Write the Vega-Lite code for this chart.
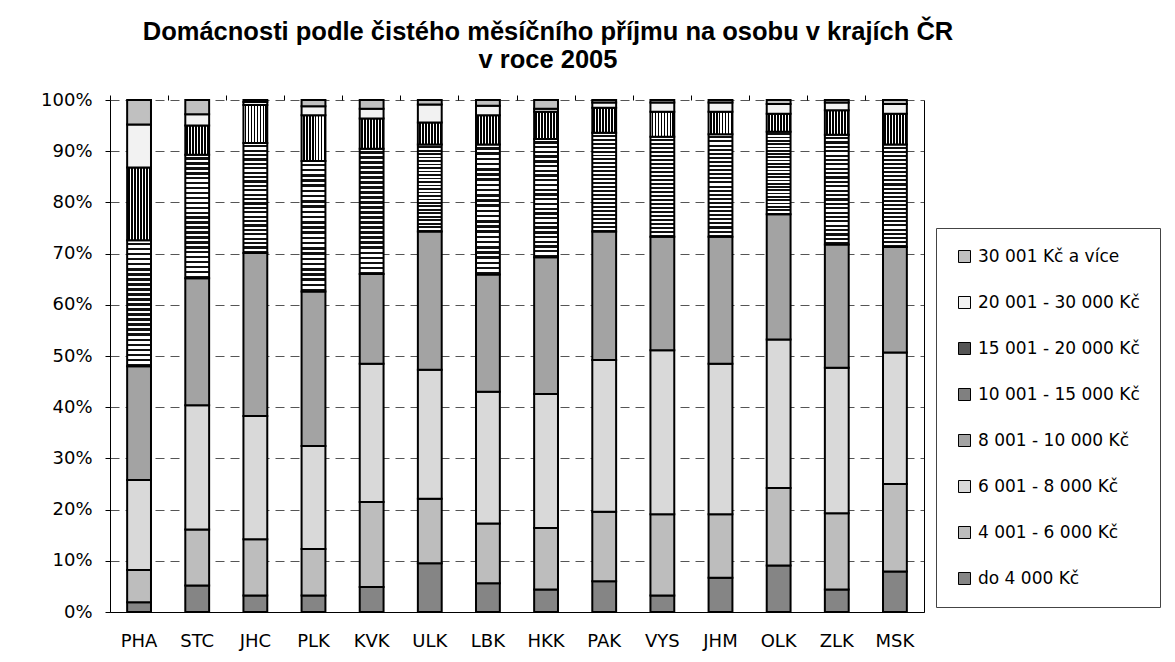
{
  "$schema": "https://vega.github.io/schema/vega-lite/v6.json",
  "width": 814,
  "height": 512,
  "autosize": "none",
  "padding": {"left": 110, "top": 100, "right": 251, "bottom": 50},
  "background": "white",
  "config": {"view": {"stroke": null}, "font": "DejaVu Sans"},
  "title": {
    "text": ["Domácnosti podle čistého měsíčního příjmu na osobu v krajích ČR", "v roce 2005"],
    "font": "Liberation Sans",
    "fontSize": 25.5,
    "fontWeight": "bold",
    "color": "black",
    "anchor": "middle",
    "frame": "group",
    "dx": 31,
    "offset": 18,
    "lineHeight": 28
  },
  "data": {
    "values": [
      {"k": "PHA", "c": "do 4 000 Kč", "r": 1, "v": 1.9},
      {"k": "PHA", "c": "4 001 - 6 000 Kč", "r": 2, "v": 6.3},
      {"k": "PHA", "c": "6 001 - 8 000 Kč", "r": 3, "v": 17.6},
      {"k": "PHA", "c": "8 001 - 10 000 Kč", "r": 4, "v": 22.2},
      {"k": "PHA", "c": "10 001 - 15 000 Kč", "r": 5, "v": 24.6},
      {"k": "PHA", "c": "15 001 - 20 000 Kč", "r": 6, "v": 14.2},
      {"k": "PHA", "c": "20 001 - 30 000 Kč", "r": 7, "v": 8.4},
      {"k": "PHA", "c": "30 001 Kč a více", "r": 8, "v": 4.8},
      {"k": "STC", "c": "do 4 000 Kč", "r": 1, "v": 5.2},
      {"k": "STC", "c": "4 001 - 6 000 Kč", "r": 2, "v": 10.9},
      {"k": "STC", "c": "6 001 - 8 000 Kč", "r": 3, "v": 24.3},
      {"k": "STC", "c": "8 001 - 10 000 Kč", "r": 4, "v": 24.8},
      {"k": "STC", "c": "10 001 - 15 000 Kč", "r": 5, "v": 24.1},
      {"k": "STC", "c": "15 001 - 20 000 Kč", "r": 6, "v": 5.7},
      {"k": "STC", "c": "20 001 - 30 000 Kč", "r": 7, "v": 2.2},
      {"k": "STC", "c": "30 001 Kč a více", "r": 8, "v": 2.8},
      {"k": "JHC", "c": "do 4 000 Kč", "r": 1, "v": 3.2},
      {"k": "JHC", "c": "4 001 - 6 000 Kč", "r": 2, "v": 11.0},
      {"k": "JHC", "c": "6 001 - 8 000 Kč", "r": 3, "v": 24.1},
      {"k": "JHC", "c": "8 001 - 10 000 Kč", "r": 4, "v": 31.8},
      {"k": "JHC", "c": "10 001 - 15 000 Kč", "r": 5, "v": 21.5},
      {"k": "JHC", "c": "15 001 - 20 000 Kč", "r": 6, "v": 7.4},
      {"k": "JHC", "c": "20 001 - 30 000 Kč", "r": 7, "v": 0.6},
      {"k": "JHC", "c": "30 001 Kč a více", "r": 8, "v": 0.4},
      {"k": "PLK", "c": "do 4 000 Kč", "r": 1, "v": 3.2},
      {"k": "PLK", "c": "4 001 - 6 000 Kč", "r": 2, "v": 9.1},
      {"k": "PLK", "c": "6 001 - 8 000 Kč", "r": 3, "v": 20.1},
      {"k": "PLK", "c": "8 001 - 10 000 Kč", "r": 4, "v": 30.2},
      {"k": "PLK", "c": "10 001 - 15 000 Kč", "r": 5, "v": 25.5},
      {"k": "PLK", "c": "15 001 - 20 000 Kč", "r": 6, "v": 8.9},
      {"k": "PLK", "c": "20 001 - 30 000 Kč", "r": 7, "v": 1.8},
      {"k": "PLK", "c": "30 001 Kč a více", "r": 8, "v": 1.2},
      {"k": "KVK", "c": "do 4 000 Kč", "r": 1, "v": 4.9},
      {"k": "KVK", "c": "4 001 - 6 000 Kč", "r": 2, "v": 16.6},
      {"k": "KVK", "c": "6 001 - 8 000 Kč", "r": 3, "v": 27.0},
      {"k": "KVK", "c": "8 001 - 10 000 Kč", "r": 4, "v": 17.5},
      {"k": "KVK", "c": "10 001 - 15 000 Kč", "r": 5, "v": 24.5},
      {"k": "KVK", "c": "15 001 - 20 000 Kč", "r": 6, "v": 5.9},
      {"k": "KVK", "c": "20 001 - 30 000 Kč", "r": 7, "v": 1.9},
      {"k": "KVK", "c": "30 001 Kč a více", "r": 8, "v": 1.7},
      {"k": "ULK", "c": "do 4 000 Kč", "r": 1, "v": 9.5},
      {"k": "ULK", "c": "4 001 - 6 000 Kč", "r": 2, "v": 12.6},
      {"k": "ULK", "c": "6 001 - 8 000 Kč", "r": 3, "v": 25.2},
      {"k": "ULK", "c": "8 001 - 10 000 Kč", "r": 4, "v": 27.0},
      {"k": "ULK", "c": "10 001 - 15 000 Kč", "r": 5, "v": 17.0},
      {"k": "ULK", "c": "15 001 - 20 000 Kč", "r": 6, "v": 4.3},
      {"k": "ULK", "c": "20 001 - 30 000 Kč", "r": 7, "v": 3.5},
      {"k": "ULK", "c": "30 001 Kč a více", "r": 8, "v": 0.9},
      {"k": "LBK", "c": "do 4 000 Kč", "r": 1, "v": 5.6},
      {"k": "LBK", "c": "4 001 - 6 000 Kč", "r": 2, "v": 11.7},
      {"k": "LBK", "c": "6 001 - 8 000 Kč", "r": 3, "v": 25.7},
      {"k": "LBK", "c": "8 001 - 10 000 Kč", "r": 4, "v": 22.9},
      {"k": "LBK", "c": "10 001 - 15 000 Kč", "r": 5, "v": 25.4},
      {"k": "LBK", "c": "15 001 - 20 000 Kč", "r": 6, "v": 5.7},
      {"k": "LBK", "c": "20 001 - 30 000 Kč", "r": 7, "v": 1.9},
      {"k": "LBK", "c": "30 001 Kč a více", "r": 8, "v": 1.1},
      {"k": "HKK", "c": "do 4 000 Kč", "r": 1, "v": 4.4},
      {"k": "HKK", "c": "4 001 - 6 000 Kč", "r": 2, "v": 12.0},
      {"k": "HKK", "c": "6 001 - 8 000 Kč", "r": 3, "v": 26.2},
      {"k": "HKK", "c": "8 001 - 10 000 Kč", "r": 4, "v": 26.7},
      {"k": "HKK", "c": "10 001 - 15 000 Kč", "r": 5, "v": 23.1},
      {"k": "HKK", "c": "15 001 - 20 000 Kč", "r": 6, "v": 5.3},
      {"k": "HKK", "c": "20 001 - 30 000 Kč", "r": 7, "v": 0.6},
      {"k": "HKK", "c": "30 001 Kč a více", "r": 8, "v": 1.7},
      {"k": "PAK", "c": "do 4 000 Kč", "r": 1, "v": 6.0},
      {"k": "PAK", "c": "4 001 - 6 000 Kč", "r": 2, "v": 13.6},
      {"k": "PAK", "c": "6 001 - 8 000 Kč", "r": 3, "v": 29.6},
      {"k": "PAK", "c": "8 001 - 10 000 Kč", "r": 4, "v": 25.1},
      {"k": "PAK", "c": "10 001 - 15 000 Kč", "r": 5, "v": 19.3},
      {"k": "PAK", "c": "15 001 - 20 000 Kč", "r": 6, "v": 4.9},
      {"k": "PAK", "c": "20 001 - 30 000 Kč", "r": 7, "v": 1.0},
      {"k": "PAK", "c": "30 001 Kč a více", "r": 8, "v": 0.5},
      {"k": "VYS", "c": "do 4 000 Kč", "r": 1, "v": 3.2},
      {"k": "VYS", "c": "4 001 - 6 000 Kč", "r": 2, "v": 15.9},
      {"k": "VYS", "c": "6 001 - 8 000 Kč", "r": 3, "v": 32.0},
      {"k": "VYS", "c": "8 001 - 10 000 Kč", "r": 4, "v": 22.2},
      {"k": "VYS", "c": "10 001 - 15 000 Kč", "r": 5, "v": 19.5},
      {"k": "VYS", "c": "15 001 - 20 000 Kč", "r": 6, "v": 4.9},
      {"k": "VYS", "c": "20 001 - 30 000 Kč", "r": 7, "v": 1.8},
      {"k": "VYS", "c": "30 001 Kč a více", "r": 8, "v": 0.5},
      {"k": "JHM", "c": "do 4 000 Kč", "r": 1, "v": 6.7},
      {"k": "JHM", "c": "4 001 - 6 000 Kč", "r": 2, "v": 12.4},
      {"k": "JHM", "c": "6 001 - 8 000 Kč", "r": 3, "v": 29.4},
      {"k": "JHM", "c": "8 001 - 10 000 Kč", "r": 4, "v": 24.8},
      {"k": "JHM", "c": "10 001 - 15 000 Kč", "r": 5, "v": 20.0},
      {"k": "JHM", "c": "15 001 - 20 000 Kč", "r": 6, "v": 4.4},
      {"k": "JHM", "c": "20 001 - 30 000 Kč", "r": 7, "v": 1.8},
      {"k": "JHM", "c": "30 001 Kč a více", "r": 8, "v": 0.5},
      {"k": "OLK", "c": "do 4 000 Kč", "r": 1, "v": 9.1},
      {"k": "OLK", "c": "4 001 - 6 000 Kč", "r": 2, "v": 15.1},
      {"k": "OLK", "c": "6 001 - 8 000 Kč", "r": 3, "v": 29.0},
      {"k": "OLK", "c": "8 001 - 10 000 Kč", "r": 4, "v": 24.5},
      {"k": "OLK", "c": "10 001 - 15 000 Kč", "r": 5, "v": 16.1},
      {"k": "OLK", "c": "15 001 - 20 000 Kč", "r": 6, "v": 3.5},
      {"k": "OLK", "c": "20 001 - 30 000 Kč", "r": 7, "v": 1.9},
      {"k": "OLK", "c": "30 001 Kč a více", "r": 8, "v": 0.8},
      {"k": "ZLK", "c": "do 4 000 Kč", "r": 1, "v": 4.4},
      {"k": "ZLK", "c": "4 001 - 6 000 Kč", "r": 2, "v": 14.9},
      {"k": "ZLK", "c": "6 001 - 8 000 Kč", "r": 3, "v": 28.4},
      {"k": "ZLK", "c": "8 001 - 10 000 Kč", "r": 4, "v": 24.1},
      {"k": "ZLK", "c": "10 001 - 15 000 Kč", "r": 5, "v": 21.4},
      {"k": "ZLK", "c": "15 001 - 20 000 Kč", "r": 6, "v": 4.8},
      {"k": "ZLK", "c": "20 001 - 30 000 Kč", "r": 7, "v": 1.5},
      {"k": "ZLK", "c": "30 001 Kč a více", "r": 8, "v": 0.5},
      {"k": "MSK", "c": "do 4 000 Kč", "r": 1, "v": 7.9},
      {"k": "MSK", "c": "4 001 - 6 000 Kč", "r": 2, "v": 17.1},
      {"k": "MSK", "c": "6 001 - 8 000 Kč", "r": 3, "v": 25.7},
      {"k": "MSK", "c": "8 001 - 10 000 Kč", "r": 4, "v": 20.6},
      {"k": "MSK", "c": "10 001 - 15 000 Kč", "r": 5, "v": 20.0},
      {"k": "MSK", "c": "15 001 - 20 000 Kč", "r": 6, "v": 6.0},
      {"k": "MSK", "c": "20 001 - 30 000 Kč", "r": 7, "v": 1.9},
      {"k": "MSK", "c": "30 001 Kč a více", "r": 8, "v": 0.8}
    ]
  },
  "layer": [
    {
      "mark": {"type": "bar", "width": {"band": 0.41}, "stroke": "black", "strokeWidth": 2},
      "encoding": {
        "x": {
          "field": "k", "type": "nominal", "sort": null,
          "scale": {"paddingInner": 0, "paddingOuter": 0},
          "axis": {"title": null, "labelAngle": 0, "ticks": false, "domain": true, "domainColor": "black", "domainWidth": 1, "labelFont": "DejaVu Sans", "labelFontSize": 18, "labelColor": "black", "labelPadding": 20, "grid": false}
        },
        "y": {
          "field": "v", "type": "quantitative", "stack": "normalize",
          "scale": {"domain": [0, 1]},
          "axis": {"title": null, "format": ".0%", "values": [0, 0.1, 0.2, 0.3, 0.4, 0.5, 0.6, 0.7, 0.8, 0.9, 1], "grid": true, "gridDash": [9, 6], "gridColor": "#555555", "gridWidth": 1, "domainColor": "black", "tickColor": "black", "tickSize": 5, "labelFont": "DejaVu Sans", "labelFontSize": 18, "labelColor": "black", "labelPadding": 13}
        },
        "color": {
          "condition": [
            {"test": "datum.c === '15 001 - 20 000 Kč'", "value": {"gradient": "linear", "x1": 0, "y1": 0, "x2": 1, "y2": 0, "stops": [
                {"offset": 0, "color": "#ffffff"}, {"offset": 0.05, "color": "#ffffff"}, {"offset": 0.05, "color": "#000000"}, {"offset": 0.125, "color": "#000000"},
                {"offset": 0.125, "color": "#ffffff"}, {"offset": 0.175, "color": "#ffffff"}, {"offset": 0.175, "color": "#000000"}, {"offset": 0.25, "color": "#000000"},
                {"offset": 0.25, "color": "#ffffff"}, {"offset": 0.3, "color": "#ffffff"}, {"offset": 0.3, "color": "#000000"}, {"offset": 0.375, "color": "#000000"},
                {"offset": 0.375, "color": "#ffffff"}, {"offset": 0.425, "color": "#ffffff"}, {"offset": 0.425, "color": "#000000"}, {"offset": 0.5, "color": "#000000"},
                {"offset": 0.5, "color": "#ffffff"}, {"offset": 0.55, "color": "#ffffff"}, {"offset": 0.55, "color": "#000000"}, {"offset": 0.625, "color": "#000000"},
                {"offset": 0.625, "color": "#ffffff"}, {"offset": 0.675, "color": "#ffffff"}, {"offset": 0.675, "color": "#000000"}, {"offset": 0.75, "color": "#000000"},
                {"offset": 0.75, "color": "#ffffff"}, {"offset": 0.8, "color": "#ffffff"}, {"offset": 0.8, "color": "#000000"}, {"offset": 0.875, "color": "#000000"},
                {"offset": 0.875, "color": "#ffffff"}, {"offset": 0.925, "color": "#ffffff"}, {"offset": 0.925, "color": "#000000"}, {"offset": 1, "color": "#000000"}
              ]}},
            {"test": "datum.c === '10 001 - 15 000 Kč'", "value": {"gradient": "linear", "x1": 0, "y1": 0, "x2": 0, "y2": 1, "stops": [
                {"offset": 0, "color": "#ffffff"}, {"offset": 0.02, "color": "#ffffff"}, {"offset": 0.02, "color": "#111111"}, {"offset": 0.04, "color": "#111111"},
                {"offset": 0.04, "color": "#ffffff"}, {"offset": 0.06, "color": "#ffffff"}, {"offset": 0.06, "color": "#111111"}, {"offset": 0.08, "color": "#111111"},
                {"offset": 0.08, "color": "#ffffff"}, {"offset": 0.1, "color": "#ffffff"}, {"offset": 0.1, "color": "#111111"}, {"offset": 0.12, "color": "#111111"},
                {"offset": 0.12, "color": "#ffffff"}, {"offset": 0.14, "color": "#ffffff"}, {"offset": 0.14, "color": "#111111"}, {"offset": 0.16, "color": "#111111"},
                {"offset": 0.16, "color": "#ffffff"}, {"offset": 0.18, "color": "#ffffff"}, {"offset": 0.18, "color": "#111111"}, {"offset": 0.2, "color": "#111111"},
                {"offset": 0.2, "color": "#ffffff"}, {"offset": 0.22, "color": "#ffffff"}, {"offset": 0.22, "color": "#111111"}, {"offset": 0.24, "color": "#111111"},
                {"offset": 0.24, "color": "#ffffff"}, {"offset": 0.26, "color": "#ffffff"}, {"offset": 0.26, "color": "#111111"}, {"offset": 0.28, "color": "#111111"},
                {"offset": 0.28, "color": "#ffffff"}, {"offset": 0.3, "color": "#ffffff"}, {"offset": 0.3, "color": "#111111"}, {"offset": 0.32, "color": "#111111"},
                {"offset": 0.32, "color": "#ffffff"}, {"offset": 0.34, "color": "#ffffff"}, {"offset": 0.34, "color": "#111111"}, {"offset": 0.36, "color": "#111111"},
                {"offset": 0.36, "color": "#ffffff"}, {"offset": 0.38, "color": "#ffffff"}, {"offset": 0.38, "color": "#111111"}, {"offset": 0.4, "color": "#111111"},
                {"offset": 0.4, "color": "#ffffff"}, {"offset": 0.42, "color": "#ffffff"}, {"offset": 0.42, "color": "#111111"}, {"offset": 0.44, "color": "#111111"},
                {"offset": 0.44, "color": "#ffffff"}, {"offset": 0.46, "color": "#ffffff"}, {"offset": 0.46, "color": "#111111"}, {"offset": 0.48, "color": "#111111"},
                {"offset": 0.48, "color": "#ffffff"}, {"offset": 0.5, "color": "#ffffff"}, {"offset": 0.5, "color": "#111111"}, {"offset": 0.52, "color": "#111111"},
                {"offset": 0.52, "color": "#ffffff"}, {"offset": 0.54, "color": "#ffffff"}, {"offset": 0.54, "color": "#111111"}, {"offset": 0.56, "color": "#111111"},
                {"offset": 0.56, "color": "#ffffff"}, {"offset": 0.58, "color": "#ffffff"}, {"offset": 0.58, "color": "#111111"}, {"offset": 0.6, "color": "#111111"},
                {"offset": 0.6, "color": "#ffffff"}, {"offset": 0.62, "color": "#ffffff"}, {"offset": 0.62, "color": "#111111"}, {"offset": 0.64, "color": "#111111"},
                {"offset": 0.64, "color": "#ffffff"}, {"offset": 0.66, "color": "#ffffff"}, {"offset": 0.66, "color": "#111111"}, {"offset": 0.68, "color": "#111111"},
                {"offset": 0.68, "color": "#ffffff"}, {"offset": 0.7, "color": "#ffffff"}, {"offset": 0.7, "color": "#111111"}, {"offset": 0.72, "color": "#111111"},
                {"offset": 0.72, "color": "#ffffff"}, {"offset": 0.74, "color": "#ffffff"}, {"offset": 0.74, "color": "#111111"}, {"offset": 0.76, "color": "#111111"},
                {"offset": 0.76, "color": "#ffffff"}, {"offset": 0.78, "color": "#ffffff"}, {"offset": 0.78, "color": "#111111"}, {"offset": 0.8, "color": "#111111"},
                {"offset": 0.8, "color": "#ffffff"}, {"offset": 0.82, "color": "#ffffff"}, {"offset": 0.82, "color": "#111111"}, {"offset": 0.84, "color": "#111111"},
                {"offset": 0.84, "color": "#ffffff"}, {"offset": 0.86, "color": "#ffffff"}, {"offset": 0.86, "color": "#111111"}, {"offset": 0.88, "color": "#111111"},
                {"offset": 0.88, "color": "#ffffff"}, {"offset": 0.9, "color": "#ffffff"}, {"offset": 0.9, "color": "#111111"}, {"offset": 0.92, "color": "#111111"},
                {"offset": 0.92, "color": "#ffffff"}, {"offset": 0.94, "color": "#ffffff"}, {"offset": 0.94, "color": "#111111"}, {"offset": 0.96, "color": "#111111"},
                {"offset": 0.96, "color": "#ffffff"}, {"offset": 0.98, "color": "#ffffff"}, {"offset": 0.98, "color": "#111111"}, {"offset": 1, "color": "#111111"}
              ]}}
          ],
          "field": "c", "type": "nominal",
          "scale": {
            "domain": ["30 001 Kč a více", "20 001 - 30 000 Kč", "15 001 - 20 000 Kč", "10 001 - 15 000 Kč", "8 001 - 10 000 Kč", "6 001 - 8 000 Kč", "4 001 - 6 000 Kč", "do 4 000 Kč"],
            "range": ["#c0c0c0", "#f2f2f2", "#555555", "#808080", "#a3a3a3", "#d9d9d9", "#bdbdbd", "#858585"]
          },
          "legend": {
            "title": null, "orient": "none", "legendX": 826, "legendY": 128, "direction": "vertical",
            "symbolType": "square", "symbolSize": 144, "symbolStrokeColor": "black", "symbolStrokeWidth": 1,
            "labelFont": "DejaVu Sans", "labelFontSize": 17, "labelColor": "black", "labelOffset": 5, "labelLimit": 300,
            "rowPadding": 28, "padding": 20, "strokeColor": "#444444", "fillColor": "white"
          }
        },
        "order": {"field": "r", "type": "quantitative"}
      }
    },
    {
      "mark": {"type": "bar", "width": {"band": 0.41}, "opacity": 0},
      "encoding": {
        "x": {
          "field": "k", "type": "nominal", "sort": null,
          "axis": {"title": null, "labels": false, "ticks": true, "bandPosition": 0, "domain": false, "tickColor": "black", "tickSize": 5, "grid": false}
        },
        "y": {
          "field": "v", "type": "quantitative", "stack": "normalize",
          "axis": {"title": null, "orient": "right", "labels": false, "ticks": false, "grid": false, "domain": true, "domainColor": "black"}
        },
        "detail": {"field": "c"},
        "order": {"field": "r", "type": "quantitative"}
      }
    }
  ],
  "resolve": {"axis": {"x": "independent", "y": "independent"}}
}
